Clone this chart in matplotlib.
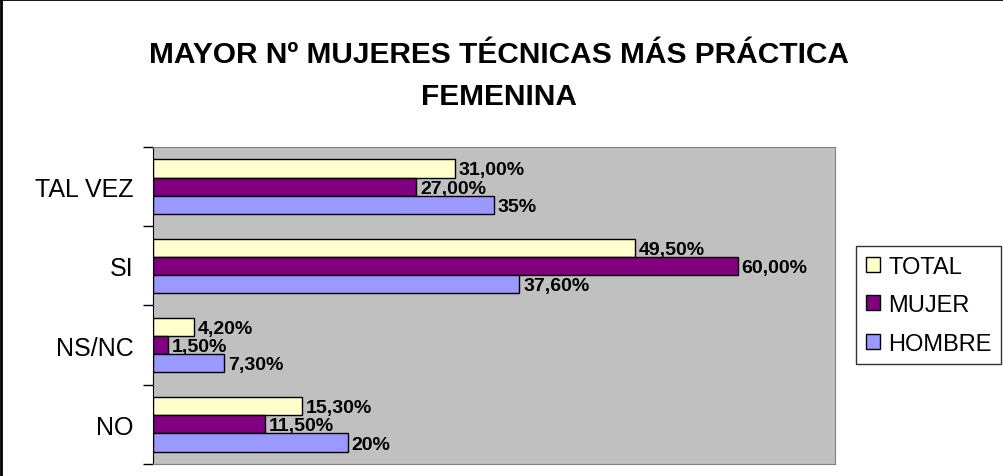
import numpy as np
import matplotlib.pyplot as plt
from matplotlib.lines import Line2D

categories = ["NO", "NS/NC", "SI", "TAL VEZ"]
series = ["TOTAL", "MUJER", "HOMBRE"]
total = [15.3, 4.2, 49.5, 31.0]
mujer = [11.5, 1.5, 60.0, 27.0]
hombre = [20.0, 7.3, 37.6, 35.0]
labels_total = ["15,30%", "4,20%", "49,50%", "31,00%"]
labels_mujer = ["11,50%", "1,50%", "60,00%", "27,00%"]
labels_hombre = ["20%", "7,30%", "37,60%", "35%"]
colors = ["#FFFFCC", "#800080", "#9999FF"]

plt.rcParams['font.family'] = ['Liberation Sans', 'DejaVu Sans']

fig = plt.figure(figsize=(10.04, 4.77), dpi=100)
ax = fig.add_axes([0.1524, 0.0252, 0.6793, 0.6645])
ax.set_facecolor("#C0C0C0")

y = np.arange(len(categories))
h = 0.23
vals = [total, mujer, hombre]
labs = [labels_total, labels_mujer, labels_hombre]
offs = [h, 0, -h]
for v, l, c, o, name in zip(vals, labs, colors, offs, series):
    ax.barh(y + o, v, height=h, color=c, edgecolor="black", linewidth=1, label=name)
    for yi, vi, li in zip(y, v, l):
        ax.text(vi + 0.4, yi + o - 0.02, li, va="center", ha="left",
                fontsize=14, fontweight="bold")

ax.set_xlim(0, 70)
ax.set_ylim(-0.5, 3.5)
ax.set_xticks([])
ax.set_yticks(np.arange(-0.5, 4, 1))
ax.set_yticklabels([])
ax.tick_params(axis="y", which="major", length=7, width=1, direction="out")
ax.set_yticks(y, minor=True)
ax.set_yticklabels(categories, minor=True, fontsize=18)
ax.tick_params(axis="y", which="minor", length=0, pad=14)
for s in ["top", "right", "bottom"]:
    ax.spines[s].set_color("#808080")
ax.spines["left"].set_color("black")

fig.text(0.497, 0.84, "MAYOR Nº MUJERES TÉCNICAS MÁS PRÁCTICA\nFEMENINA",
         ha="center", va="center", fontsize=21.5, fontweight="bold", linespacing=1.65)

leg = fig.legend(loc="upper left", bbox_to_anchor=(0.853, 0.482), fontsize=17,
                 frameon=True, fancybox=False, edgecolor="black",
                 handlelength=0.6, handleheight=0.6, handletextpad=0.35,
                 labelspacing=0.7, borderpad=0.4, borderaxespad=0)
leg.get_frame().set_linewidth(1)

fig.add_artist(Line2D([0.001, 0.001], [0, 1], transform=fig.transFigure,
                      color="black", linewidth=2))
fig.add_artist(Line2D([0, 1], [0.999, 0.999], transform=fig.transFigure,
                      color="black", linewidth=2))

fig.savefig("out.png", dpi=100)
